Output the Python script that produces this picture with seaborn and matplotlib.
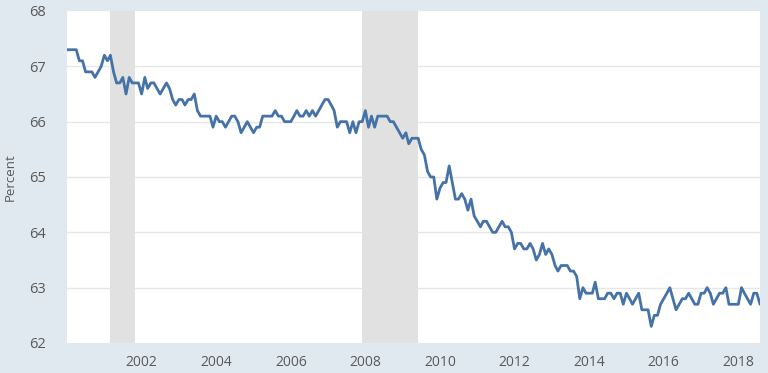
import numpy as np
import pandas as pd
import matplotlib
matplotlib.use("Agg")
import matplotlib.pyplot as plt
import matplotlib.dates as mdates
import seaborn as sns

# civilian labor force participation rate, monthly, Jan 2000 - Aug 2018
y2000 = [67.3, 67.3, 67.3, 67.3, 67.1, 67.1, 66.9, 66.9, 66.9, 66.8, 66.9, 67.0]
y2001 = [67.2, 67.1, 67.2, 66.9, 66.7, 66.7, 66.8, 66.5, 66.8, 66.7, 66.7, 66.7]
y2002 = [66.5, 66.8, 66.6, 66.7, 66.7, 66.6, 66.5, 66.6, 66.7, 66.6, 66.4, 66.3]
y2003 = [66.4, 66.4, 66.3, 66.4, 66.4, 66.5, 66.2, 66.1, 66.1, 66.1, 66.1, 65.9]
y2004 = [66.1, 66.0, 66.0, 65.9, 66.0, 66.1, 66.1, 66.0, 65.8, 65.9, 66.0, 65.9]
y2005 = [65.8, 65.9, 65.9, 66.1, 66.1, 66.1, 66.1, 66.2, 66.1, 66.1, 66.0, 66.0]
y2006 = [66.0, 66.1, 66.2, 66.1, 66.1, 66.2, 66.1, 66.2, 66.1, 66.2, 66.3, 66.4]
y2007 = [66.4, 66.3, 66.2, 65.9, 66.0, 66.0, 66.0, 65.8, 66.0, 65.8, 66.0, 66.0]
y2008 = [66.2, 65.9, 66.1, 65.9, 66.1, 66.1, 66.1, 66.1, 66.0, 66.0, 65.9, 65.8]
y2009 = [65.7, 65.8, 65.6, 65.7, 65.7, 65.7, 65.5, 65.4, 65.1, 65.0, 65.0, 64.6]
y2010 = [64.8, 64.9, 64.9, 65.2, 64.9, 64.6, 64.6, 64.7, 64.6, 64.4, 64.6, 64.3]
y2011 = [64.2, 64.1, 64.2, 64.2, 64.1, 64.0, 64.0, 64.1, 64.2, 64.1, 64.1, 64.0]
y2012 = [63.7, 63.8, 63.8, 63.7, 63.7, 63.8, 63.7, 63.5, 63.6, 63.8, 63.6, 63.7]
y2013 = [63.6, 63.4, 63.3, 63.4, 63.4, 63.4, 63.3, 63.3, 63.2, 62.8, 63.0, 62.9]
y2014 = [62.9, 62.9, 63.1, 62.8, 62.8, 62.8, 62.9, 62.9, 62.8, 62.9, 62.9, 62.7]
y2015 = [62.9, 62.8, 62.7, 62.8, 62.9, 62.6, 62.6, 62.6, 62.3, 62.5, 62.5, 62.7]
y2016 = [62.8, 62.9, 63.0, 62.8, 62.6, 62.7, 62.8, 62.8, 62.9, 62.8, 62.7, 62.7]
y2017 = [62.9, 62.9, 63.0, 62.9, 62.7, 62.8, 62.9, 62.9, 63.0, 62.7, 62.7, 62.7]
y2018 = [62.7, 63.0, 62.9, 62.8, 62.7, 62.9, 62.9, 62.7]

rate = (y2000 + y2001 + y2002 + y2003 + y2004 + y2005 + y2006 + y2007 + y2008 + y2009
        + y2010 + y2011 + y2012 + y2013 + y2014 + y2015 + y2016 + y2017 + y2018)

recession_start = ["2001-03-01", "2007-12-01"]
recession_end = ["2001-11-01", "2009-06-01"]

y_ticks = [62, 63, 64, 65, 66, 67, 68]
x_tick_years = [2002, 2004, 2006, 2008, 2010, 2012, 2014, 2016, 2018]

df = pd.DataFrame({
    "date": pd.date_range("2000-01-01", periods=len(rate), freq="MS"),
    "rate": rate,
})

sns.set_style("white")
plt.rcParams["font.family"] = ["Open Sans", "DejaVu Sans"]

fig = plt.figure(figsize=(7.68, 3.73), dpi=100)
fig.patch.set_facecolor("#e1e9f0")
ax = fig.add_axes([67 / 768, 30 / 373, 693 / 768, 332 / 373])
ax.set_facecolor("white")

# recession bars
for s, e in zip(recession_start, recession_end):
    ax.axvspan(pd.Timestamp(s), pd.Timestamp(e), color="#e1e1e1", lw=0, zorder=1)

for t in y_ticks[1:-1]:
    ax.axhline(t, color="#e6e6e6", lw=1, zorder=0.5)

sns.lineplot(data=df, x="date", y="rate", ax=ax, color="#4572a7", lw=2, zorder=3)

ax.set_xlim(df["date"].iloc[0], df["date"].iloc[-1])
ax.set_ylim(62, 68)
ax.set_yticks(y_ticks)
ax.set_xticks([pd.Timestamp(f"{y}-01-01") for y in x_tick_years])
ax.xaxis.set_major_formatter(mdates.DateFormatter("%Y"))

for sp in ax.spines.values():
    sp.set_visible(False)

ax.tick_params(axis="y", length=0, pad=15, labelsize=10.5, labelcolor="#595959")
ax.tick_params(axis="x", length=5, width=1, color="#ccd6eb", pad=4,
               labelsize=10, labelcolor="#595959")
ax.set_xlabel("")
ax.set_ylabel("Percent", fontsize=9.5, color="#595959", labelpad=9)

fig.savefig("out.png", dpi=100, facecolor=fig.get_facecolor())
